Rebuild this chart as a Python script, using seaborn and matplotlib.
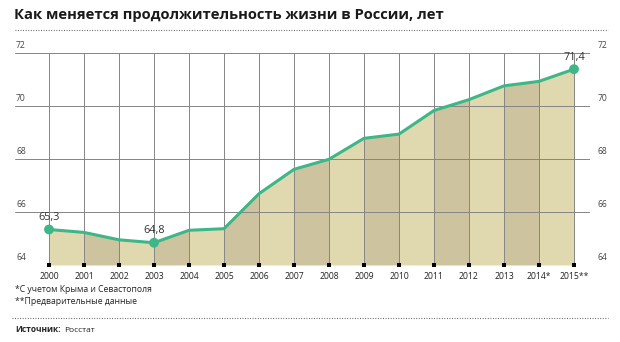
import matplotlib
matplotlib.use("Agg")
import matplotlib.pyplot as plt
import seaborn as sns
import pandas as pd
from matplotlib.lines import Line2D

years = list(range(2000, 2016))
values = [65.34, 65.23, 64.95, 64.84, 65.31, 65.37, 66.69, 67.61, 67.99,
          68.78, 68.94, 69.83, 70.24, 70.76, 70.93, 71.39]
year_labels = ["2000", "2001", "2002", "2003", "2004", "2005", "2006", "2007",
               "2008", "2009", "2010", "2011", "2012", "2013", "2014*", "2015**"]
y_ticks = [64, 66, 68, 70, 72]
highlight_years = [2000, 2003, 2015]
highlight_labels = ["65,3", "64,8", "71,4"]

title = "Как меняется продолжительность жизни в России, лет"
note1 = "*С учетом Крыма и Севастополя"
note2 = "**Предварительные данные"
source_bold = "Источник:"
source = "Росстат"

sns.set_theme(style="white")
plt.rcParams["font.family"] = ["Open Sans", "DejaVu Sans"]

df = pd.DataFrame({"year": years, "value": values})

W, H = 620, 342
fig = plt.figure(figsize=(W / 100, H / 100), dpi=100)
fig.patch.set_facecolor("white")

def fx(px):
    return px / W

def fy(py):
    return 1 - py / H

left, right, top, bottom = 15, 590, 53, 265
ax = fig.add_axes([fx(left), fy(bottom), fx(right - left), (bottom - top) / H])
x0, x1 = 2000 - 34 / 35, 2015 + 16 / 35
ax.set_xlim(x0, x1)
ax.set_ylim(64, 72)
ax.axis("off")

light = "#e0d8ae"
dark = "#cdc49f"
green = "#3db688"
grid_c = "#858585"

# alternating fill bands
for i in range(len(years) - 1):
    ax.fill_between([years[i], years[i + 1]], [values[i], values[i + 1]], 64,
                    color=light if i % 2 == 0 else dark, lw=0, zorder=1)

# grid
for yt in y_ticks:
    ax.axhline(yt, color=grid_c, lw=0.7, zorder=2)
ax.vlines(years, 64, 72, color=grid_c, lw=0.7, zorder=2)

sns.lineplot(data=df, x="year", y="value", ax=ax, color=green, lw=2.2,
             zorder=4, legend=False)

hl = df[df["year"].isin(highlight_years)]
sns.scatterplot(data=hl, x="year", y="value", ax=ax, color=green, s=50,
                edgecolor="none", zorder=5, legend=False)
for yr, lab in zip(highlight_years, highlight_labels):
    v = values[years.index(yr)]
    ax.text(yr, v + 0.25, lab, ha="center", va="bottom", fontsize=7.8,
            color="#333333", zorder=6)

# bottom tick squares
ax.scatter(years, [64] * len(years), marker="s", s=5, color="black",
           zorder=6, clip_on=False, linewidths=0)

# year labels
for yr, lab in zip(years, year_labels):
    ax.text(yr, 63.75, lab, ha="center", va="top", fontsize=6.2,
            color="#222222")

# y labels left and right
for yt in y_ticks:
    ax.text(x0 + 0.03, yt + 0.1, str(yt), ha="left",
            va="bottom", fontsize=6.2, color="#444444")
    ax.text(x1 + 0.22, yt + 0.1, str(yt), ha="left",
            va="bottom", fontsize=6.2, color="#444444")

# title
fig.text(fx(14), fy(15), title, ha="left", va="center", fontsize=10.6,
         fontweight="bold", color="#1a1a1a")
fig.add_artist(Line2D([fx(15), fx(608)], [fy(30), fy(30)], color="#555555",
                      lw=0.8, linestyle=(0, (0.8, 1.5))))

fig.text(fx(15), fy(290), note1, ha="left", va="center", fontsize=6.2,
         color="#222222")
fig.text(fx(15), fy(302), note2, ha="left", va="center", fontsize=6.2,
         color="#222222")
fig.add_artist(Line2D([fx(12), fx(608)], [fy(318), fy(318)], color="#555555",
                      lw=0.8, linestyle=(0, (0.8, 1.5))))
t = fig.text(fx(15), fy(332), source_bold, ha="left", va="baseline",
             fontsize=6.0, fontweight="bold", color="#222222")
fig.canvas.draw()
bb = t.get_window_extent(renderer=fig.canvas.get_renderer())
fig.text(bb.x1 / W + fx(4), fy(332), source, ha="left", va="baseline",
         fontsize=6.0, color="#222222")

fig.savefig("out.png", dpi=100, facecolor="white")
